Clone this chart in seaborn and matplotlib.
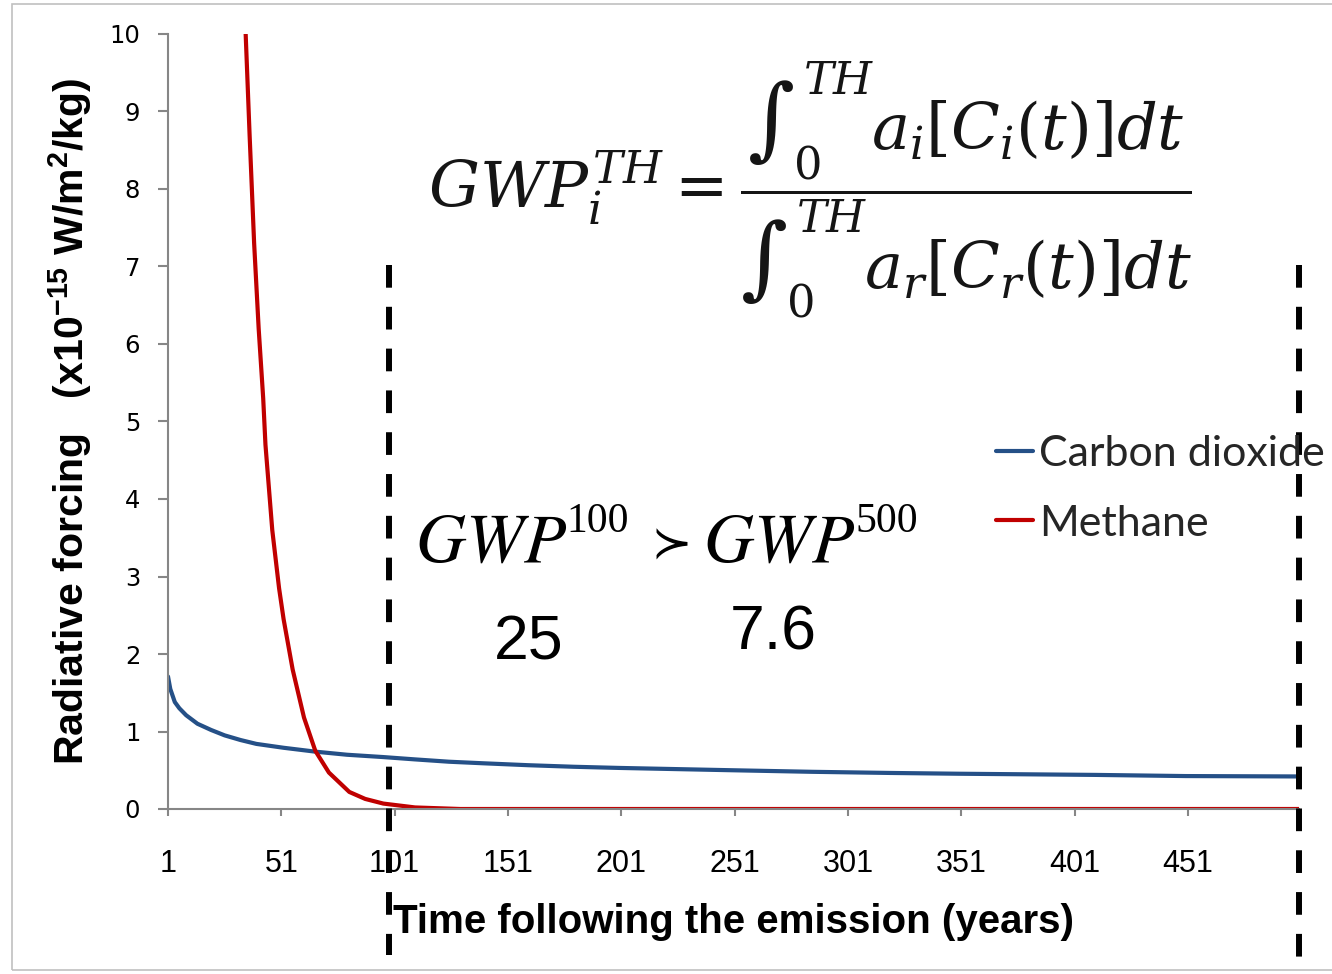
import numpy as np
import pandas as pd
import matplotlib
matplotlib.use("Agg")
import matplotlib.pyplot as plt
import seaborn as sns
from matplotlib import font_manager as fm
from matplotlib.patches import Rectangle
from matplotlib.lines import Line2D

# ---------------- data ----------------
co2_years = [1, 2, 4, 6, 9, 14, 20, 26, 33, 40, 52, 66, 80, 96, 110, 125, 140,
             160, 180, 200, 225, 250, 285, 320, 350, 410, 450, 500]
co2_values = [1.71, 1.55, 1.38, 1.30, 1.21, 1.10, 1.02, 0.95, 0.89, 0.84, 0.79,
              0.74, 0.70, 0.67, 0.64, 0.61, 0.59, 0.565, 0.545, 0.53, 0.515,
              0.50, 0.48, 0.465, 0.455, 0.44, 0.425, 0.42]
ch4_years = [30, 33, 35, 37, 39, 41, 43, 44, 47, 50, 52, 56, 61, 66, 72, 81, 88,
             96, 110, 130, 200, 300, 400, 500]
ch4_values = [15.0, 11.5, 10.2, 8.7, 7.3, 6.2, 5.3, 4.7, 3.6, 2.85, 2.45, 1.8,
              1.18, 0.75, 0.47, 0.22, 0.13, 0.07, 0.02, 0.0, 0.0, 0.0, 0.0, 0.0]
series_names = ["Carbon dioxide", "Methane"]
series_colors = ["#255087", "#C00000"]
x_ticks = [1, 51, 101, 151, 201, 251, 301, 351, 401, 451]
y_ticks = [0, 1, 2, 3, 4, 5, 6, 7, 8, 9, 10]
gwp100_value = "25"
gwp500_value = "7.6"
horizon_lines = [98.5, 500]

# ---------------- style ----------------
sns.set_theme(style="white")
names = {f.name for f in fm.fontManager.ttflist}
narrow = "Liberation Sans Narrow" if "Liberation Sans Narrow" in names else "Liberation Sans"
plt.rcParams["font.family"] = ["DejaVu Sans"]
plt.rcParams["mathtext.fontset"] = "custom"
plt.rcParams["mathtext.rm"] = narrow
plt.rcParams["mathtext.bf"] = narrow + ":bold"
plt.rcParams["mathtext.it"] = narrow + ":italic"

W, H = 1332, 974
fig = plt.figure(figsize=(W / 100, H / 100), dpi=100)
fig.patch.set_facecolor("white")
ax = fig.add_axes([168 / W, (H - 809) / H, (1299 - 168) / W, (809 - 34) / H])

def px(x, y):
    return x / W, 1 - y / H

df = pd.concat([
    pd.DataFrame({"year": co2_years, "value": co2_values, "gas": series_names[0]}),
    pd.DataFrame({"year": ch4_years, "value": ch4_values, "gas": series_names[1]}),
])
sns.lineplot(data=df, x="year", y="value", hue="gas",
             palette=dict(zip(series_names, series_colors)),
             linewidth=3, ax=ax, legend=False, estimator=None, sort=False)

ax.set_xlim(1, 500)
ax.set_ylim(0, 10)
ax.set_xticks(x_ticks)
ax.set_yticks(y_ticks)
ax.set_xticklabels([str(t) for t in x_ticks], fontfamily=narrow, fontsize=22)
ax.set_yticklabels([str(t) for t in y_ticks], fontfamily="DejaVu Sans", fontsize=17.5)
for s in ["top", "right"]:
    ax.spines[s].set_visible(False)
for s in ["left", "bottom"]:
    ax.spines[s].set_color("#868686")
    ax.spines[s].set_linewidth(1.5)
ax.tick_params(axis="y", left=True, direction="out", length=7, width=1.5,
               color="#868686", pad=13, labelcolor="black")
ax.tick_params(axis="x", bottom=True, direction="out", length=5, width=1.5,
               color="#868686", pad=24, labelcolor="black")
ax.grid(False)

ax.set_ylabel(r"Radiative forcing   (x10$^{\mathbf{-15}}$ W/m$^{\mathbf{2}}$/kg)",
              fontfamily=narrow, fontweight="bold", fontsize=29.5, labelpad=11,
              color="black")
ax.set_xlabel("Time following the emission (years)", fontfamily=narrow,
              fontweight="bold", fontsize=29, labelpad=17, color="black")

# dashed time-horizon lines (drawn from top down so dashes start at the top)
for xh, ybot in zip(horizon_lines, [-1.88, -2.3]):
    ax.plot([xh, xh], [7.02, ybot], color="black", lw=4.3,
            linestyle=(0, (3.8, 3.2)), clip_on=False, zorder=5)

# formula
fig.text(*px(428, 190),
         r"$GWP_i^{TH} = \dfrac{\int_0^{TH} a_i[C_i(t)]dt}{\int_0^{TH} a_r[C_r(t)]dt}$",
         math_fontfamily="dejavuserif", fontsize=46, ha="left", va="center",
         color="#151515")

# GWP comparison
fig.text(*px(415, 562), r"$GWP$", math_fontfamily="stix", fontsize=50,
         ha="left", va="baseline", color="black")
fig.text(*px(566, 532), "100", fontfamily="Liberation Serif", fontsize=30,
         ha="left", va="baseline", color="black")
fig.text(*px(644, 558), r"$\succ$", math_fontfamily="stix", fontsize=40,
         ha="left", va="baseline", color="black")
fig.text(*px(703, 562), r"$GWP$", math_fontfamily="stix", fontsize=50,
         ha="left", va="baseline", color="black")
fig.text(*px(855, 532), "500", fontfamily="Liberation Serif", fontsize=30,
         ha="left", va="baseline", color="black")
fig.text(*px(529, 660), gwp100_value, fontfamily="Liberation Sans",
         fontsize=45, ha="center", va="baseline", color="black")
fig.text(*px(773, 650), gwp500_value, fontfamily="Liberation Sans",
         fontsize=45, ha="center", va="baseline", color="black")

# legend
handles = [Line2D([0], [0], color=c, lw=3) for c in series_colors]
fig.legend(handles, series_names, loc="center left",
           bbox_to_anchor=(996 / W, 1 - 489 / H), frameon=False,
           prop={"family": "Lato", "size": 31}, handlelength=0.85,
           handletextpad=0.15, labelspacing=0.72, borderpad=0, borderaxespad=0)

# light frame around the picture
fig.add_artist(Rectangle((12 / W, 1 - 970 / H), (W + 10) / W, (970 - 4) / H,
                         transform=fig.transFigure, fill=False,
                         edgecolor="#c0c0c0", lw=1.2))

fig.savefig("out.png", dpi=100)
